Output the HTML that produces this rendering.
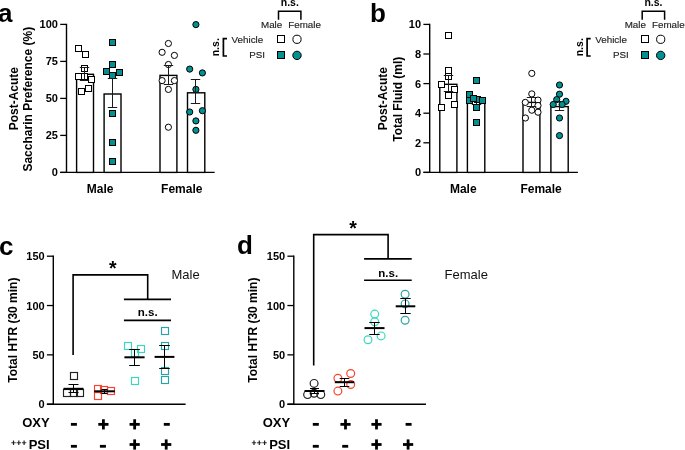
<!DOCTYPE html><html><head><meta charset="utf-8"><style>html,body{margin:0;padding:0;background:#fff;overflow:hidden;width:685px;height:450px;}svg{display:block;font-family:"Liberation Sans",sans-serif;will-change:transform;}</style></head><body>
<svg width="685" height="450" viewBox="0 0 685 450">
<rect width="685" height="450" fill="#fff"/>
<text x="-1.9" y="21.7" font-size="26" font-weight="bold" text-anchor="start" fill="#000" >a</text>
<line x1="66.5" y1="23.799999999999997" x2="66.5" y2="173.0" stroke="#000" stroke-width="1.4"/>
<line x1="60.2" y1="172.4" x2="66.5" y2="172.4" stroke="#000" stroke-width="1.3"/>
<text x="57.9" y="176.4" font-size="11" font-weight="bold" text-anchor="end" fill="#000" >0</text>
<line x1="60.2" y1="135.4" x2="66.5" y2="135.4" stroke="#000" stroke-width="1.3"/>
<text x="57.9" y="139.4" font-size="11" font-weight="bold" text-anchor="end" fill="#000" >25</text>
<line x1="60.2" y1="98.4" x2="66.5" y2="98.4" stroke="#000" stroke-width="1.3"/>
<text x="57.9" y="102.4" font-size="11" font-weight="bold" text-anchor="end" fill="#000" >50</text>
<line x1="60.2" y1="61.400000000000006" x2="66.5" y2="61.400000000000006" stroke="#000" stroke-width="1.3"/>
<text x="57.9" y="65.4" font-size="11" font-weight="bold" text-anchor="end" fill="#000" >75</text>
<line x1="60.2" y1="24.400000000000006" x2="66.5" y2="24.400000000000006" stroke="#000" stroke-width="1.3"/>
<text x="57.9" y="28.400000000000006" font-size="11" font-weight="bold" text-anchor="end" fill="#000" >100</text>
<line x1="60.2" y1="172.4" x2="214.7" y2="172.4" stroke="#000" stroke-width="1.4"/>
<text transform="translate(18.0,98.7) rotate(-90)" font-size="12" font-weight="bold" text-anchor="middle" fill="#000" >Post-Acute</text>
<text transform="translate(32.4,99.2) rotate(-90)" font-size="12" font-weight="bold" text-anchor="middle" fill="#000" >Saccharin Preference (%)</text>
<text x="100.1" y="192.9" font-size="12" font-weight="bold" text-anchor="middle" fill="#000" >Male</text>
<text x="181.8" y="192.9" font-size="12" font-weight="bold" text-anchor="middle" fill="#000" >Female</text>
<rect x="76.6" y="74.3" width="16.900000000000006" height="98.10000000000001" fill="#fff" stroke="#000" stroke-width="1.4"/>
<rect x="104.1" y="94.0" width="16.900000000000006" height="78.4" fill="#fff" stroke="#000" stroke-width="1.4"/>
<rect x="160.0" y="75.4" width="16.900000000000006" height="97.0" fill="#fff" stroke="#000" stroke-width="1.4"/>
<rect x="187.5" y="92.8" width="17.30000000000001" height="79.60000000000001" fill="#fff" stroke="#000" stroke-width="1.4"/>
<rect x="75.50" y="45.50" width="6" height="6" fill="#fff" stroke="#000" stroke-width="1.0"/>
<rect x="82.50" y="51.50" width="6" height="6" fill="#fff" stroke="#000" stroke-width="1.0"/>
<rect x="81.50" y="65.50" width="6" height="6" fill="#fff" stroke="#000" stroke-width="1.0"/>
<rect x="75.50" y="73.50" width="6" height="6" fill="#fff" stroke="#000" stroke-width="1.0"/>
<rect x="81.50" y="73.50" width="6" height="6" fill="#fff" stroke="#000" stroke-width="1.0"/>
<rect x="88.50" y="76.50" width="6" height="6" fill="#fff" stroke="#000" stroke-width="1.0"/>
<rect x="85.50" y="85.50" width="6" height="6" fill="#fff" stroke="#000" stroke-width="1.0"/>
<rect x="78.50" y="88.50" width="6" height="6" fill="#fff" stroke="#000" stroke-width="1.0"/>
<line x1="84.5" y1="67.5" x2="84.5" y2="80.5" stroke="#1a1a1a" stroke-width="1.0"/>
<line x1="79.8" y1="67.5" x2="89.2" y2="67.5" stroke="#1a1a1a" stroke-width="1.0"/>
<line x1="79.8" y1="80.5" x2="89.2" y2="80.5" stroke="#1a1a1a" stroke-width="1.0"/>
<rect x="109.50" y="39.50" width="6" height="6" fill="#009190" stroke="#000" stroke-width="1.0"/>
<rect x="109.50" y="61.50" width="6" height="6" fill="#009190" stroke="#000" stroke-width="1.0"/>
<rect x="103.50" y="68.50" width="6" height="6" fill="#009190" stroke="#000" stroke-width="1.0"/>
<rect x="116.50" y="69.50" width="6" height="6" fill="#009190" stroke="#000" stroke-width="1.0"/>
<rect x="109.50" y="72.50" width="6" height="6" fill="#009190" stroke="#000" stroke-width="1.0"/>
<rect x="109.50" y="110.50" width="6" height="6" fill="#009190" stroke="#000" stroke-width="1.0"/>
<rect x="109.50" y="139.50" width="6" height="6" fill="#009190" stroke="#000" stroke-width="1.0"/>
<rect x="109.50" y="158.50" width="6" height="6" fill="#009190" stroke="#000" stroke-width="1.0"/>
<line x1="112.5" y1="78.5" x2="112.5" y2="107.5" stroke="#1a1a1a" stroke-width="1.0"/>
<line x1="107.8" y1="78.5" x2="117.2" y2="78.5" stroke="#1a1a1a" stroke-width="1.0"/>
<line x1="107.8" y1="107.5" x2="117.2" y2="107.5" stroke="#1a1a1a" stroke-width="1.0"/>
<circle cx="168.40" cy="43.50" r="3.1" fill="#fff" stroke="#000" stroke-width="1.0"/>
<circle cx="162.10" cy="52.30" r="3.1" fill="#fff" stroke="#000" stroke-width="1.0"/>
<circle cx="174.40" cy="55.40" r="3.1" fill="#fff" stroke="#000" stroke-width="1.0"/>
<circle cx="168.40" cy="64.50" r="3.1" fill="#fff" stroke="#000" stroke-width="1.0"/>
<circle cx="162.10" cy="80.60" r="3.1" fill="#fff" stroke="#000" stroke-width="1.0"/>
<circle cx="174.40" cy="80.60" r="3.1" fill="#fff" stroke="#000" stroke-width="1.0"/>
<circle cx="168.40" cy="89.40" r="3.1" fill="#fff" stroke="#000" stroke-width="1.0"/>
<circle cx="168.40" cy="127.20" r="3.1" fill="#fff" stroke="#000" stroke-width="1.0"/>
<line x1="168.5" y1="65.5" x2="168.5" y2="84.5" stroke="#1a1a1a" stroke-width="1.0"/>
<line x1="163.8" y1="65.5" x2="173.2" y2="65.5" stroke="#1a1a1a" stroke-width="1.0"/>
<line x1="163.8" y1="84.5" x2="173.2" y2="84.5" stroke="#1a1a1a" stroke-width="1.0"/>
<circle cx="195.90" cy="24.60" r="3.1" fill="#009190" stroke="#000" stroke-width="1.0"/>
<circle cx="189.70" cy="69.10" r="3.1" fill="#009190" stroke="#000" stroke-width="1.0"/>
<circle cx="202.40" cy="72.90" r="3.1" fill="#009190" stroke="#000" stroke-width="1.0"/>
<circle cx="195.90" cy="89.40" r="3.1" fill="#009190" stroke="#000" stroke-width="1.0"/>
<circle cx="189.70" cy="112.00" r="3.1" fill="#009190" stroke="#000" stroke-width="1.0"/>
<circle cx="202.40" cy="110.70" r="3.1" fill="#009190" stroke="#000" stroke-width="1.0"/>
<circle cx="195.90" cy="120.90" r="3.1" fill="#009190" stroke="#000" stroke-width="1.0"/>
<circle cx="195.90" cy="130.30" r="3.1" fill="#009190" stroke="#000" stroke-width="1.0"/>
<line x1="195.5" y1="79.5" x2="195.5" y2="103.5" stroke="#1a1a1a" stroke-width="1.0"/>
<line x1="190.8" y1="79.5" x2="200.2" y2="79.5" stroke="#1a1a1a" stroke-width="1.0"/>
<line x1="190.8" y1="103.5" x2="200.2" y2="103.5" stroke="#1a1a1a" stroke-width="1.0"/>
<text x="289.8" y="5.7" font-size="10.5" font-weight="bold" text-anchor="middle" fill="#000" >n.s.</text>
<path d="M278.5,19.8 V11.3 H300.9 V19.8" fill="none" stroke="#000" stroke-width="1.5"/>
<text x="271.6" y="28.2" font-size="9.8" font-weight="normal" text-anchor="middle" fill="#1e1e1e" stroke="#1e1e1e" stroke-width="0.15">Male</text>
<text x="304.6" y="28.2" font-size="9.8" font-weight="normal" text-anchor="middle" fill="#1e1e1e" stroke="#1e1e1e" stroke-width="0.15">Female</text>
<text x="263.2" y="42.6" font-size="9.8" font-weight="normal" text-anchor="end" fill="#1e1e1e" stroke="#1e1e1e" stroke-width="0.15">Vehicle</text>
<text x="265.0" y="58.1" font-size="9.8" font-weight="normal" text-anchor="end" fill="#1e1e1e" stroke="#1e1e1e" stroke-width="0.15">PSI</text>
<rect x="277.5" y="35.5" width="7" height="7" fill="#fff" stroke="#000" stroke-width="1"/>
<circle cx="297.00" cy="39.30" r="4.1" fill="#fff" stroke="#000" stroke-width="1.0"/>
<rect x="277.5" y="51.5" width="7" height="7" fill="#009190" stroke="#000" stroke-width="1"/>
<circle cx="297.00" cy="55.40" r="4.2" fill="#009190" stroke="#000" stroke-width="1.0"/>
<path d="M227.0,38.6 H223.4 V56.0 H227.0" fill="none" stroke="#000" stroke-width="1.7"/>
<text transform="translate(219.0,47.2) rotate(-90)" font-size="10.4" font-weight="bold" text-anchor="middle" fill="#000" letter-spacing="0.1">n.s.</text>
<text x="370.1" y="21.7" font-size="26" font-weight="bold" text-anchor="start" fill="#000" >b</text>
<line x1="429.7" y1="23.799999999999997" x2="429.7" y2="173.0" stroke="#000" stroke-width="1.4"/>
<line x1="423.4" y1="172.4" x2="429.7" y2="172.4" stroke="#000" stroke-width="1.3"/>
<text x="421.09999999999997" y="176.4" font-size="11" font-weight="bold" text-anchor="end" fill="#000" >0</text>
<line x1="423.4" y1="142.8" x2="429.7" y2="142.8" stroke="#000" stroke-width="1.3"/>
<text x="421.09999999999997" y="146.8" font-size="11" font-weight="bold" text-anchor="end" fill="#000" >2</text>
<line x1="423.4" y1="113.2" x2="429.7" y2="113.2" stroke="#000" stroke-width="1.3"/>
<text x="421.09999999999997" y="117.2" font-size="11" font-weight="bold" text-anchor="end" fill="#000" >4</text>
<line x1="423.4" y1="83.60000000000001" x2="429.7" y2="83.60000000000001" stroke="#000" stroke-width="1.3"/>
<text x="421.09999999999997" y="87.60000000000001" font-size="11" font-weight="bold" text-anchor="end" fill="#000" >6</text>
<line x1="423.4" y1="54.0" x2="429.7" y2="54.0" stroke="#000" stroke-width="1.3"/>
<text x="421.09999999999997" y="58.0" font-size="11" font-weight="bold" text-anchor="end" fill="#000" >8</text>
<line x1="423.4" y1="24.400000000000006" x2="429.7" y2="24.400000000000006" stroke="#000" stroke-width="1.3"/>
<text x="421.09999999999997" y="28.400000000000006" font-size="11" font-weight="bold" text-anchor="end" fill="#000" >10</text>
<line x1="423.4" y1="172.4" x2="577.9" y2="172.4" stroke="#000" stroke-width="1.4"/>
<text transform="translate(387.2,98.7) rotate(-90)" font-size="12" font-weight="bold" text-anchor="middle" fill="#000" >Post-Acute</text>
<text transform="translate(401.59999999999997,99.2) rotate(-90)" font-size="12" font-weight="bold" text-anchor="middle" fill="#000" >Total Fluid (ml)</text>
<text x="463.29999999999995" y="192.9" font-size="12" font-weight="bold" text-anchor="middle" fill="#000" >Male</text>
<text x="541.1" y="192.9" font-size="12" font-weight="bold" text-anchor="middle" fill="#000" >Female</text>
<rect x="439.8" y="84.3" width="17.099999999999966" height="88.10000000000001" fill="#fff" stroke="#000" stroke-width="1.4"/>
<rect x="467.4" y="98.8" width="17.400000000000034" height="73.60000000000001" fill="#fff" stroke="#000" stroke-width="1.4"/>
<rect x="523.0" y="102.4" width="16.899999999999977" height="70.0" fill="#fff" stroke="#000" stroke-width="1.4"/>
<rect x="550.9" y="106.6" width="17.300000000000068" height="65.80000000000001" fill="#fff" stroke="#000" stroke-width="1.4"/>
<rect x="445.50" y="32.50" width="6" height="6" fill="#fff" stroke="#000" stroke-width="1.0"/>
<rect x="445.50" y="67.50" width="6" height="6" fill="#fff" stroke="#000" stroke-width="1.0"/>
<rect x="445.50" y="73.50" width="6" height="6" fill="#fff" stroke="#000" stroke-width="1.0"/>
<rect x="438.50" y="81.50" width="6" height="6" fill="#fff" stroke="#000" stroke-width="1.0"/>
<rect x="451.50" y="86.50" width="6" height="6" fill="#fff" stroke="#000" stroke-width="1.0"/>
<rect x="445.50" y="92.50" width="6" height="6" fill="#fff" stroke="#000" stroke-width="1.0"/>
<rect x="438.50" y="104.50" width="6" height="6" fill="#fff" stroke="#000" stroke-width="1.0"/>
<rect x="451.50" y="101.50" width="6" height="6" fill="#fff" stroke="#000" stroke-width="1.0"/>
<line x1="448.5" y1="75.5" x2="448.5" y2="91.5" stroke="#1a1a1a" stroke-width="1.0"/>
<line x1="443.8" y1="75.5" x2="453.2" y2="75.5" stroke="#1a1a1a" stroke-width="1.0"/>
<line x1="443.8" y1="91.5" x2="453.2" y2="91.5" stroke="#1a1a1a" stroke-width="1.0"/>
<line x1="476.5" y1="97.5" x2="476.5" y2="104.5" stroke="#1a1a1a" stroke-width="1.0"/>
<line x1="471.8" y1="97.5" x2="481.2" y2="97.5" stroke="#1a1a1a" stroke-width="1.0"/>
<line x1="471.8" y1="104.5" x2="481.2" y2="104.5" stroke="#1a1a1a" stroke-width="1.0"/>
<rect x="473.50" y="77.50" width="6" height="6" fill="#009190" stroke="#000" stroke-width="1.0"/>
<rect x="466.50" y="91.50" width="6" height="6" fill="#009190" stroke="#000" stroke-width="1.0"/>
<rect x="466.50" y="97.50" width="6" height="6" fill="#009190" stroke="#000" stroke-width="1.0"/>
<rect x="474.50" y="96.50" width="6" height="6" fill="#009190" stroke="#000" stroke-width="1.0"/>
<rect x="470.50" y="95.50" width="6" height="6" fill="#009190" stroke="#000" stroke-width="1.0"/>
<rect x="479.50" y="97.50" width="6" height="6" fill="#009190" stroke="#000" stroke-width="1.0"/>
<rect x="473.50" y="104.50" width="6" height="6" fill="#009190" stroke="#000" stroke-width="1.0"/>
<rect x="473.50" y="119.50" width="6" height="6" fill="#009190" stroke="#000" stroke-width="1.0"/>
<circle cx="531.80" cy="73.40" r="3.1" fill="#fff" stroke="#000" stroke-width="1.0"/>
<circle cx="531.80" cy="93.90" r="3.1" fill="#fff" stroke="#000" stroke-width="1.0"/>
<circle cx="538.00" cy="100.10" r="3.1" fill="#fff" stroke="#000" stroke-width="1.0"/>
<circle cx="525.30" cy="102.40" r="3.1" fill="#fff" stroke="#000" stroke-width="1.0"/>
<circle cx="538.00" cy="105.50" r="3.1" fill="#fff" stroke="#000" stroke-width="1.0"/>
<circle cx="531.80" cy="110.20" r="3.1" fill="#fff" stroke="#000" stroke-width="1.0"/>
<circle cx="538.00" cy="112.20" r="3.1" fill="#fff" stroke="#000" stroke-width="1.0"/>
<circle cx="525.40" cy="118.00" r="3.1" fill="#fff" stroke="#000" stroke-width="1.0"/>
<line x1="531.5" y1="97.5" x2="531.5" y2="106.5" stroke="#1a1a1a" stroke-width="1.0"/>
<line x1="526.8" y1="97.5" x2="536.2" y2="97.5" stroke="#1a1a1a" stroke-width="1.0"/>
<line x1="526.8" y1="106.5" x2="536.2" y2="106.5" stroke="#1a1a1a" stroke-width="1.0"/>
<circle cx="559.50" cy="85.00" r="3.1" fill="#009190" stroke="#000" stroke-width="1.0"/>
<circle cx="559.50" cy="94.20" r="3.1" fill="#009190" stroke="#000" stroke-width="1.0"/>
<circle cx="556.70" cy="99.60" r="3.1" fill="#009190" stroke="#000" stroke-width="1.0"/>
<circle cx="566.00" cy="101.30" r="3.1" fill="#009190" stroke="#000" stroke-width="1.0"/>
<circle cx="553.20" cy="104.50" r="3.1" fill="#009190" stroke="#000" stroke-width="1.0"/>
<circle cx="562.10" cy="104.50" r="3.1" fill="#009190" stroke="#000" stroke-width="1.0"/>
<circle cx="559.50" cy="118.00" r="3.1" fill="#009190" stroke="#000" stroke-width="1.0"/>
<circle cx="559.50" cy="135.60" r="3.1" fill="#009190" stroke="#000" stroke-width="1.0"/>
<line x1="559.5" y1="101.5" x2="559.5" y2="110.5" stroke="#1a1a1a" stroke-width="1.0"/>
<line x1="554.8" y1="101.5" x2="564.2" y2="101.5" stroke="#1a1a1a" stroke-width="1.0"/>
<line x1="554.8" y1="110.5" x2="564.2" y2="110.5" stroke="#1a1a1a" stroke-width="1.0"/>
<text x="653.5" y="5.7" font-size="10.5" font-weight="bold" text-anchor="middle" fill="#000" >n.s.</text>
<path d="M642.2,19.8 V11.3 H664.5999999999999 V19.8" fill="none" stroke="#000" stroke-width="1.5"/>
<text x="635.3" y="28.2" font-size="9.8" font-weight="normal" text-anchor="middle" fill="#1e1e1e" stroke="#1e1e1e" stroke-width="0.15">Male</text>
<text x="668.3" y="28.2" font-size="9.8" font-weight="normal" text-anchor="middle" fill="#1e1e1e" stroke="#1e1e1e" stroke-width="0.15">Female</text>
<text x="626.9" y="42.6" font-size="9.8" font-weight="normal" text-anchor="end" fill="#1e1e1e" stroke="#1e1e1e" stroke-width="0.15">Vehicle</text>
<text x="628.7" y="58.1" font-size="9.8" font-weight="normal" text-anchor="end" fill="#1e1e1e" stroke="#1e1e1e" stroke-width="0.15">PSI</text>
<rect x="641.5" y="35.5" width="7" height="7" fill="#fff" stroke="#000" stroke-width="1"/>
<circle cx="660.70" cy="39.30" r="4.1" fill="#fff" stroke="#000" stroke-width="1.0"/>
<rect x="641.5" y="51.5" width="7" height="7" fill="#009190" stroke="#000" stroke-width="1"/>
<circle cx="660.70" cy="55.40" r="4.2" fill="#009190" stroke="#000" stroke-width="1.0"/>
<path d="M590.7,38.6 H587.1 V56.0 H590.7" fill="none" stroke="#000" stroke-width="1.7"/>
<text transform="translate(582.7,47.2) rotate(-90)" font-size="10.4" font-weight="bold" text-anchor="middle" fill="#000" letter-spacing="0.1">n.s.</text>
<text x="-1.0" y="254.8" font-size="26" font-weight="bold" text-anchor="start" fill="#000" >c</text>
<line x1="53.3" y1="255.6" x2="53.3" y2="404.8" stroke="#000" stroke-width="1.4"/>
<line x1="46.9" y1="404.2" x2="53.3" y2="404.2" stroke="#000" stroke-width="1.3"/>
<text x="44.699999999999996" y="408.2" font-size="11" font-weight="bold" text-anchor="end" fill="#000" >0</text>
<line x1="46.9" y1="354.8666666666667" x2="53.3" y2="354.8666666666667" stroke="#000" stroke-width="1.3"/>
<text x="44.699999999999996" y="358.8666666666667" font-size="11" font-weight="bold" text-anchor="end" fill="#000" >50</text>
<line x1="46.9" y1="305.5333333333333" x2="53.3" y2="305.5333333333333" stroke="#000" stroke-width="1.3"/>
<text x="44.699999999999996" y="309.5333333333333" font-size="11" font-weight="bold" text-anchor="end" fill="#000" >100</text>
<line x1="46.9" y1="256.2" x2="53.3" y2="256.2" stroke="#000" stroke-width="1.3"/>
<text x="44.699999999999996" y="260.2" font-size="11" font-weight="bold" text-anchor="end" fill="#000" >150</text>
<line x1="46.9" y1="404.2" x2="185.6" y2="404.2" stroke="#000" stroke-width="1.4"/>
<text transform="translate(16.5,330.1) rotate(-90)" font-size="12" font-weight="bold" text-anchor="middle" fill="#000" >Total HTR (30 min)</text>
<text x="171.5" y="278.8" font-size="13" font-weight="normal" text-anchor="start" fill="#111" >Male</text>
<path d="M73.1,355.0 V274.9 H147.7 V299.4" fill="none" stroke="#000" stroke-width="1.6"/>
<line x1="123.9" y1="299.4" x2="171.0" y2="299.4" stroke="#000" stroke-width="1.6"/>
<text x="147.75" y="315.7" font-size="11.5" font-weight="bold" text-anchor="middle" fill="#000" >n.s.</text>
<line x1="123.9" y1="320.4" x2="171.0" y2="320.4" stroke="#000" stroke-width="1.6"/>
<text x="112.9" y="274.6" font-size="19.5" font-weight="bold" text-anchor="middle" fill="#000" >*</text>
<text x="49.6" y="426.8" font-size="13" font-weight="bold" text-anchor="end" fill="#000" >OXY</text>
<text x="49.6" y="448.6" font-size="13" font-weight="bold" text-anchor="end" fill="#000" >PSI</text>
<line x1="11.3" y1="442.75" x2="15.7" y2="442.75" stroke="#333" stroke-width="1.0"/>
<line x1="13.5" y1="440.55" x2="13.5" y2="444.95" stroke="#222" stroke-width="1.2"/>
<line x1="16.6" y1="442.75" x2="21.0" y2="442.75" stroke="#333" stroke-width="1.0"/>
<line x1="18.8" y1="440.55" x2="18.8" y2="444.95" stroke="#222" stroke-width="1.2"/>
<line x1="21.900000000000002" y1="442.75" x2="26.3" y2="442.75" stroke="#333" stroke-width="1.0"/>
<line x1="24.1" y1="440.55" x2="24.1" y2="444.95" stroke="#222" stroke-width="1.2"/>
<rect x="70.50" y="372.50" width="7" height="7" fill="none" stroke="#222" stroke-width="1.15"/>
<rect x="63.50" y="389.50" width="7" height="7" fill="none" stroke="#222" stroke-width="1.15"/>
<rect x="76.50" y="389.50" width="7" height="7" fill="none" stroke="#222" stroke-width="1.15"/>
<rect x="70.50" y="389.50" width="7" height="7" fill="none" stroke="#222" stroke-width="1.15"/>
<line x1="73.5" y1="384.5" x2="73.5" y2="392.5" stroke="#000" stroke-width="1.0"/>
<line x1="68.5" y1="384.5" x2="78.5" y2="384.5" stroke="#000" stroke-width="1.0"/>
<line x1="68.5" y1="392.5" x2="78.5" y2="392.5" stroke="#000" stroke-width="1.0"/>
<line x1="63.5" y1="388.8" x2="83.5" y2="388.8" stroke="#000" stroke-width="2.0"/>
<rect x="94.50" y="385.50" width="7" height="7" fill="none" stroke="#f8432f" stroke-width="1.15"/>
<rect x="94.50" y="392.50" width="7" height="7" fill="none" stroke="#f8432f" stroke-width="1.15"/>
<rect x="100.50" y="386.50" width="7" height="7" fill="none" stroke="#f8432f" stroke-width="1.15"/>
<rect x="107.50" y="387.50" width="7" height="7" fill="none" stroke="#f8432f" stroke-width="1.15"/>
<line x1="104.5" y1="389.5" x2="104.5" y2="393.5" stroke="#000" stroke-width="1.0"/>
<line x1="101.5" y1="389.5" x2="107.5" y2="389.5" stroke="#000" stroke-width="1.0"/>
<line x1="101.5" y1="393.5" x2="107.5" y2="393.5" stroke="#000" stroke-width="1.0"/>
<line x1="94.2" y1="391.3" x2="114.8" y2="391.3" stroke="#000" stroke-width="2.0"/>
<rect x="124.50" y="342.50" width="7" height="7" fill="none" stroke="#38d8c0" stroke-width="1.15"/>
<rect x="137.50" y="345.50" width="7" height="7" fill="none" stroke="#38d8c0" stroke-width="1.15"/>
<rect x="131.50" y="349.50" width="7" height="7" fill="none" stroke="#38d8c0" stroke-width="1.15"/>
<rect x="131.50" y="377.50" width="7" height="7" fill="none" stroke="#38d8c0" stroke-width="1.15"/>
<line x1="134.5" y1="349.5" x2="134.5" y2="365.5" stroke="#000" stroke-width="1.0"/>
<line x1="129.2" y1="349.5" x2="139.8" y2="349.5" stroke="#000" stroke-width="1.0"/>
<line x1="129.2" y1="365.5" x2="139.8" y2="365.5" stroke="#000" stroke-width="1.0"/>
<line x1="124.4" y1="357.3" x2="144.6" y2="357.3" stroke="#000" stroke-width="2.0"/>
<rect x="161.50" y="327.50" width="7" height="7" fill="none" stroke="#2aa3a6" stroke-width="1.15"/>
<rect x="161.50" y="342.50" width="7" height="7" fill="none" stroke="#2aa3a6" stroke-width="1.15"/>
<rect x="161.50" y="367.50" width="7" height="7" fill="none" stroke="#2aa3a6" stroke-width="1.15"/>
<rect x="161.50" y="376.50" width="7" height="7" fill="none" stroke="#2aa3a6" stroke-width="1.15"/>
<line x1="164.5" y1="345.5" x2="164.5" y2="368.5" stroke="#000" stroke-width="1.0"/>
<line x1="159.2" y1="345.5" x2="169.8" y2="345.5" stroke="#000" stroke-width="1.0"/>
<line x1="159.2" y1="368.5" x2="169.8" y2="368.5" stroke="#000" stroke-width="1.0"/>
<line x1="154.6" y1="356.9" x2="174.4" y2="356.9" stroke="#000" stroke-width="2.0"/>
<line x1="70.9" y1="424.35" x2="76.9" y2="424.35" stroke="#000" stroke-width="2.8"/>
<line x1="98.30000000000001" y1="424.35" x2="108.5" y2="424.35" stroke="#000" stroke-width="2.8"/>
<line x1="103.4" y1="419.25" x2="103.4" y2="429.45000000000005" stroke="#000" stroke-width="2.8"/>
<line x1="129.55" y1="424.35" x2="139.75" y2="424.35" stroke="#000" stroke-width="2.8"/>
<line x1="134.65" y1="419.25" x2="134.65" y2="429.45000000000005" stroke="#000" stroke-width="2.8"/>
<line x1="163.8" y1="424.35" x2="169.8" y2="424.35" stroke="#000" stroke-width="2.8"/>
<line x1="70.9" y1="446.3" x2="76.9" y2="446.3" stroke="#000" stroke-width="2.8"/>
<line x1="99.9" y1="446.3" x2="105.9" y2="446.3" stroke="#000" stroke-width="2.8"/>
<line x1="129.55" y1="444.5" x2="139.75" y2="444.5" stroke="#000" stroke-width="2.8"/>
<line x1="134.65" y1="439.4" x2="134.65" y2="449.6" stroke="#000" stroke-width="2.8"/>
<line x1="161.1" y1="444.5" x2="171.29999999999998" y2="444.5" stroke="#000" stroke-width="2.8"/>
<line x1="166.2" y1="439.4" x2="166.2" y2="449.6" stroke="#000" stroke-width="2.8"/>
<text x="237.0" y="253.5" font-size="26" font-weight="bold" text-anchor="start" fill="#000" >d</text>
<line x1="293.8" y1="255.6" x2="293.8" y2="404.8" stroke="#000" stroke-width="1.4"/>
<line x1="287.40000000000003" y1="404.2" x2="293.8" y2="404.2" stroke="#000" stroke-width="1.3"/>
<text x="285.2" y="408.2" font-size="11" font-weight="bold" text-anchor="end" fill="#000" >0</text>
<line x1="287.40000000000003" y1="354.8666666666667" x2="293.8" y2="354.8666666666667" stroke="#000" stroke-width="1.3"/>
<text x="285.2" y="358.8666666666667" font-size="11" font-weight="bold" text-anchor="end" fill="#000" >50</text>
<line x1="287.40000000000003" y1="305.5333333333333" x2="293.8" y2="305.5333333333333" stroke="#000" stroke-width="1.3"/>
<text x="285.2" y="309.5333333333333" font-size="11" font-weight="bold" text-anchor="end" fill="#000" >100</text>
<line x1="287.40000000000003" y1="256.2" x2="293.8" y2="256.2" stroke="#000" stroke-width="1.3"/>
<text x="285.2" y="260.2" font-size="11" font-weight="bold" text-anchor="end" fill="#000" >150</text>
<line x1="287.40000000000003" y1="404.2" x2="426.0" y2="404.2" stroke="#000" stroke-width="1.4"/>
<text transform="translate(257.0,330.1) rotate(-90)" font-size="12" font-weight="bold" text-anchor="middle" fill="#000" >Total HTR (30 min)</text>
<text x="444.6" y="278.9" font-size="13" font-weight="normal" text-anchor="start" fill="#111" >Female</text>
<path d="M313.7,365.5 V234.6 H388.1 V258.9" fill="none" stroke="#000" stroke-width="1.6"/>
<line x1="364.1" y1="258.9" x2="411.7" y2="258.9" stroke="#000" stroke-width="1.6"/>
<text x="388.2" y="276.6" font-size="11.5" font-weight="bold" text-anchor="middle" fill="#000" >n.s.</text>
<line x1="364.1" y1="280.2" x2="411.7" y2="280.2" stroke="#000" stroke-width="1.6"/>
<text x="353.0" y="234.8" font-size="19.5" font-weight="bold" text-anchor="middle" fill="#000" >*</text>
<text x="290.1" y="426.8" font-size="13" font-weight="bold" text-anchor="end" fill="#000" >OXY</text>
<text x="290.1" y="448.6" font-size="13" font-weight="bold" text-anchor="end" fill="#000" >PSI</text>
<line x1="251.8" y1="442.75" x2="256.2" y2="442.75" stroke="#333" stroke-width="1.0"/>
<line x1="254.0" y1="440.55" x2="254.0" y2="444.95" stroke="#222" stroke-width="1.2"/>
<line x1="257.1" y1="442.75" x2="261.5" y2="442.75" stroke="#333" stroke-width="1.0"/>
<line x1="259.3" y1="440.55" x2="259.3" y2="444.95" stroke="#222" stroke-width="1.2"/>
<line x1="262.4" y1="442.75" x2="266.8" y2="442.75" stroke="#333" stroke-width="1.0"/>
<line x1="264.6" y1="440.55" x2="264.6" y2="444.95" stroke="#222" stroke-width="1.2"/>
<circle cx="314.10" cy="383.40" r="3.9" fill="none" stroke="#222" stroke-width="1.2"/>
<circle cx="307.60" cy="394.60" r="3.9" fill="none" stroke="#222" stroke-width="1.2"/>
<circle cx="320.80" cy="394.60" r="3.9" fill="none" stroke="#222" stroke-width="1.2"/>
<circle cx="314.10" cy="393.20" r="3.9" fill="none" stroke="#222" stroke-width="1.2"/>
<line x1="314.5" y1="388.5" x2="314.5" y2="393.5" stroke="#000" stroke-width="1.0"/>
<line x1="310.0" y1="388.5" x2="319.0" y2="388.5" stroke="#000" stroke-width="1.0"/>
<line x1="310.0" y1="393.5" x2="319.0" y2="393.5" stroke="#000" stroke-width="1.0"/>
<line x1="304.5" y1="391.0" x2="324.5" y2="391.0" stroke="#000" stroke-width="2.0"/>
<circle cx="337.90" cy="378.30" r="3.9" fill="none" stroke="#f8432f" stroke-width="1.2"/>
<circle cx="350.70" cy="373.50" r="3.9" fill="none" stroke="#f8432f" stroke-width="1.2"/>
<circle cx="350.70" cy="384.50" r="3.9" fill="none" stroke="#f8432f" stroke-width="1.2"/>
<circle cx="337.90" cy="391.10" r="3.9" fill="none" stroke="#f8432f" stroke-width="1.2"/>
<line x1="344.5" y1="378.5" x2="344.5" y2="386.5" stroke="#000" stroke-width="1.0"/>
<line x1="339.7" y1="378.5" x2="349.3" y2="378.5" stroke="#000" stroke-width="1.0"/>
<line x1="339.7" y1="386.5" x2="349.3" y2="386.5" stroke="#000" stroke-width="1.0"/>
<line x1="334.8" y1="382.2" x2="354.2" y2="382.2" stroke="#000" stroke-width="2.0"/>
<circle cx="374.70" cy="314.10" r="3.9" fill="none" stroke="#38d8c0" stroke-width="1.2"/>
<circle cx="374.70" cy="321.70" r="3.9" fill="none" stroke="#38d8c0" stroke-width="1.2"/>
<circle cx="381.10" cy="335.90" r="3.9" fill="none" stroke="#38d8c0" stroke-width="1.2"/>
<circle cx="368.00" cy="339.70" r="3.9" fill="none" stroke="#38d8c0" stroke-width="1.2"/>
<line x1="374.5" y1="322.5" x2="374.5" y2="334.5" stroke="#000" stroke-width="1.0"/>
<line x1="369.3" y1="322.5" x2="379.7" y2="322.5" stroke="#000" stroke-width="1.0"/>
<line x1="369.3" y1="334.5" x2="379.7" y2="334.5" stroke="#000" stroke-width="1.0"/>
<line x1="364.5" y1="328.1" x2="384.5" y2="328.1" stroke="#000" stroke-width="2.0"/>
<circle cx="405.10" cy="294.30" r="3.9" fill="none" stroke="#2aa3a6" stroke-width="1.2"/>
<circle cx="405.10" cy="303.90" r="3.9" fill="none" stroke="#2aa3a6" stroke-width="1.2"/>
<circle cx="405.10" cy="320.30" r="3.9" fill="none" stroke="#2aa3a6" stroke-width="1.2"/>
<line x1="405.5" y1="298.5" x2="405.5" y2="313.5" stroke="#000" stroke-width="1.0"/>
<line x1="400.3" y1="298.5" x2="410.7" y2="298.5" stroke="#000" stroke-width="1.0"/>
<line x1="400.3" y1="313.5" x2="410.7" y2="313.5" stroke="#000" stroke-width="1.0"/>
<line x1="395.7" y1="306.3" x2="415.3" y2="306.3" stroke="#000" stroke-width="2.0"/>
<line x1="312.8" y1="424.35" x2="318.8" y2="424.35" stroke="#000" stroke-width="2.8"/>
<line x1="340.4" y1="424.35" x2="350.6" y2="424.35" stroke="#000" stroke-width="2.8"/>
<line x1="345.5" y1="419.25" x2="345.5" y2="429.45000000000005" stroke="#000" stroke-width="2.8"/>
<line x1="371.4" y1="424.35" x2="381.6" y2="424.35" stroke="#000" stroke-width="2.8"/>
<line x1="376.5" y1="419.25" x2="376.5" y2="429.45000000000005" stroke="#000" stroke-width="2.8"/>
<line x1="405.6" y1="424.35" x2="411.6" y2="424.35" stroke="#000" stroke-width="2.8"/>
<line x1="312.8" y1="446.3" x2="318.8" y2="446.3" stroke="#000" stroke-width="2.8"/>
<line x1="342.2" y1="446.3" x2="348.2" y2="446.3" stroke="#000" stroke-width="2.8"/>
<line x1="371.4" y1="444.5" x2="381.6" y2="444.5" stroke="#000" stroke-width="2.8"/>
<line x1="376.5" y1="439.4" x2="376.5" y2="449.6" stroke="#000" stroke-width="2.8"/>
<line x1="403.0" y1="444.5" x2="413.20000000000005" y2="444.5" stroke="#000" stroke-width="2.8"/>
<line x1="408.1" y1="439.4" x2="408.1" y2="449.6" stroke="#000" stroke-width="2.8"/>
</svg></body></html>
